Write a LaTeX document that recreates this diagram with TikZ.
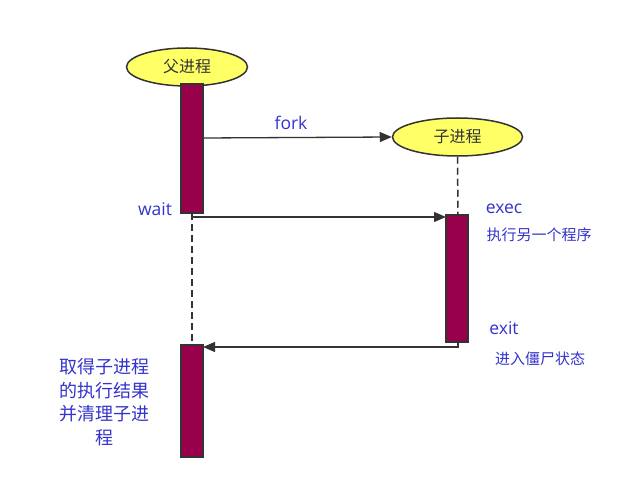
\documentclass[tikz,border=0pt]{standalone}
\usepackage{fontspec}
\setmainfont{Noto Sans CJK SC}
\newfontfamily\latinlab{Open Sans}
\usetikzlibrary{shapes.geometric,arrows.meta}
\definecolor{barfill}{RGB}{153,0,76}
\definecolor{ellfill}{RGB}{255,255,102}
\definecolor{lbl}{RGB}{51,51,204}
\definecolor{ln}{RGB}{51,51,51}
\begin{document}
\begin{tikzpicture}[x=1pt,y=-1pt,
  proc/.style={ellipse,draw=ln,line width=1.5pt,fill=ellfill,minimum width=121pt,minimum height=38pt,inner sep=0pt,font=\fontsize{16}{18}\selectfont,text=ln},
  actbar/.style={draw=ln,line width=1.5pt,fill=barfill},
  msg/.style={draw=ln,line width=1.3pt,-{Triangle[length=12pt,width=10pt]}},
  life/.style={draw=ln,line width=1.5pt,dash pattern=on 7pt off 4pt},
  lab/.style={text=lbl,font=\latinlab\fontsize{17.5}{20}\selectfont,inner sep=0pt},
  slab/.style={text=lbl,font=\fontsize{15}{17}\selectfont,inner sep=0pt}]
\useasboundingbox (0,0) rectangle (623,494);
% lifelines
\coordinate (pl1) at (192,213);
\coordinate (pl2) at (192,345);
\draw[life] (pl1) -- (pl2);
\node[proc] (parent) at (187,67) {父进程};
\node[proc,minimum width=130pt] (child) at (457.5,137) {子进程};
\coordinate (cl2) at (458,215);
\draw[life] (child.south) -- (cl2);
% bars
\draw[actbar] (181,84) rectangle (203,213);
\coordinate (b1r) at (203,138);
\draw[actbar] (446,215) rectangle (468,342);
\coordinate (b2l) at (446,217);
\coordinate (b2b) at (458,342);
\draw[actbar] (181,345) rectangle (203,457);
\coordinate (b3r) at (203,347);
% messages
\draw[msg] (b1r) -- (child.west);
\coordinate (ws) at (192,217);
\draw[msg] (ws) -- (b2l);
\draw[msg] (b2b) -- (458,347) -- (b3r);
% labels
\node[lab] (fork) at (291,123) {fork};
\node[lab] (wait) at (155,209) {wait};
\node[lab] (exec) at (504,209) {exec};
\node[slab] (execd) at (539,235) {执行另一个程序};
\node[lab] (exit) at (504,328) {exit};
\node[slab] (exitd) at (540,359) {进入僵尸状态};
\node[text=lbl,font=\fontsize{18}{23.5}\selectfont,align=center,inner sep=0pt] (res) at (104,402) {取得子进程\\的执行结果\\并清理子进\\程};
\end{tikzpicture}
\end{document}
